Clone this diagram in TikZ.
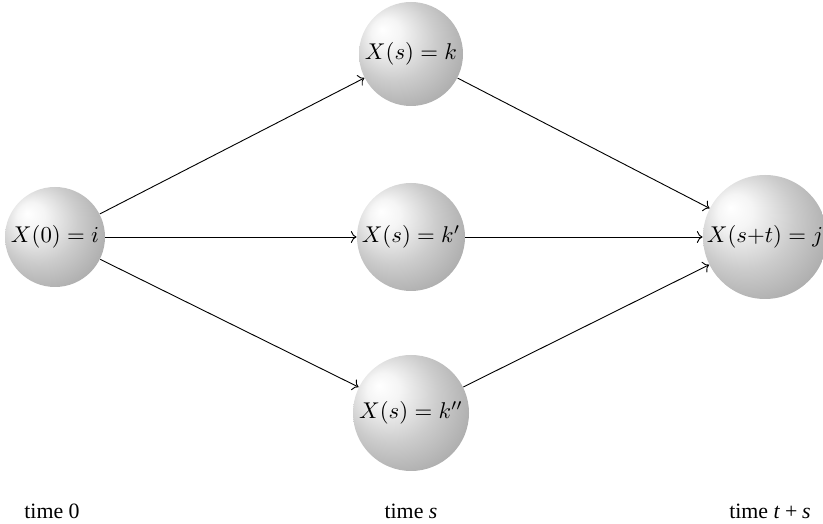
\documentclass[tikz,border=0pt]{standalone}
\usepackage{fontspec}
\setmainfont{Liberation Serif}
\usepackage{tikz}
\usetikzlibrary{arrows.meta}
\pgfdeclareradialshading{sphere}{\pgfpoint{-14bp}{12bp}}{%
  color(0bp)=(white); color(7bp)=(white!96!black); color(20bp)=(gray!40);
  color(36bp)=(gray!72); color(50bp)=(gray!96)}
\tikzset{
  state/.style={circle,shading=sphere,inner sep=0pt,font=\fontsize{10.4}{12}\selectfont},
  trans/.style={->,black,line width=0.4pt},
  timelbl/.style={font=\fontsize{9.6}{11}\selectfont},
}
\begin{document}
\begin{tikzpicture}[x=0.01543cm,y=-0.01543cm]
  \useasboundingbox (0,0) rectangle (823,524);
  % states
  \node[state,minimum size=100*0.01543cm] (x0)  at (55,237)  {$X(0)=i$};
  \node[state,minimum size=104*0.01543cm] (k1)  at (411,54)  {$X(s)=k$};
  \node[state,minimum size=108*0.01543cm] (k2)  at (411,237) {$X(s)=k'$};
  \node[state,minimum size=116*0.01543cm] (k3)  at (411,413) {$X(s)=k''$};
  \node[state,minimum size=124*0.01543cm] (xj)  at (765,237) {$X(s{+}t)=j$};
  % transitions
  \draw[trans] (x0) -- (k1);
  \draw[trans] (x0) -- (k2);
  \draw[trans] (x0) -- (k3);
  \draw[trans] (k1) -- (xj);
  \draw[trans] (k2) -- (xj);
  \draw[trans] (k3) -- (xj);
  % time axis labels
  \node[timelbl] (t0) at (52,511)  {time 0};
  \node[timelbl] (ts) at (411,511) {time \textit{s}};
  \node[timelbl] (tt) at (770,511) {time \textit{t}\:+\:\textit{s}};
\end{tikzpicture}
\end{document}
